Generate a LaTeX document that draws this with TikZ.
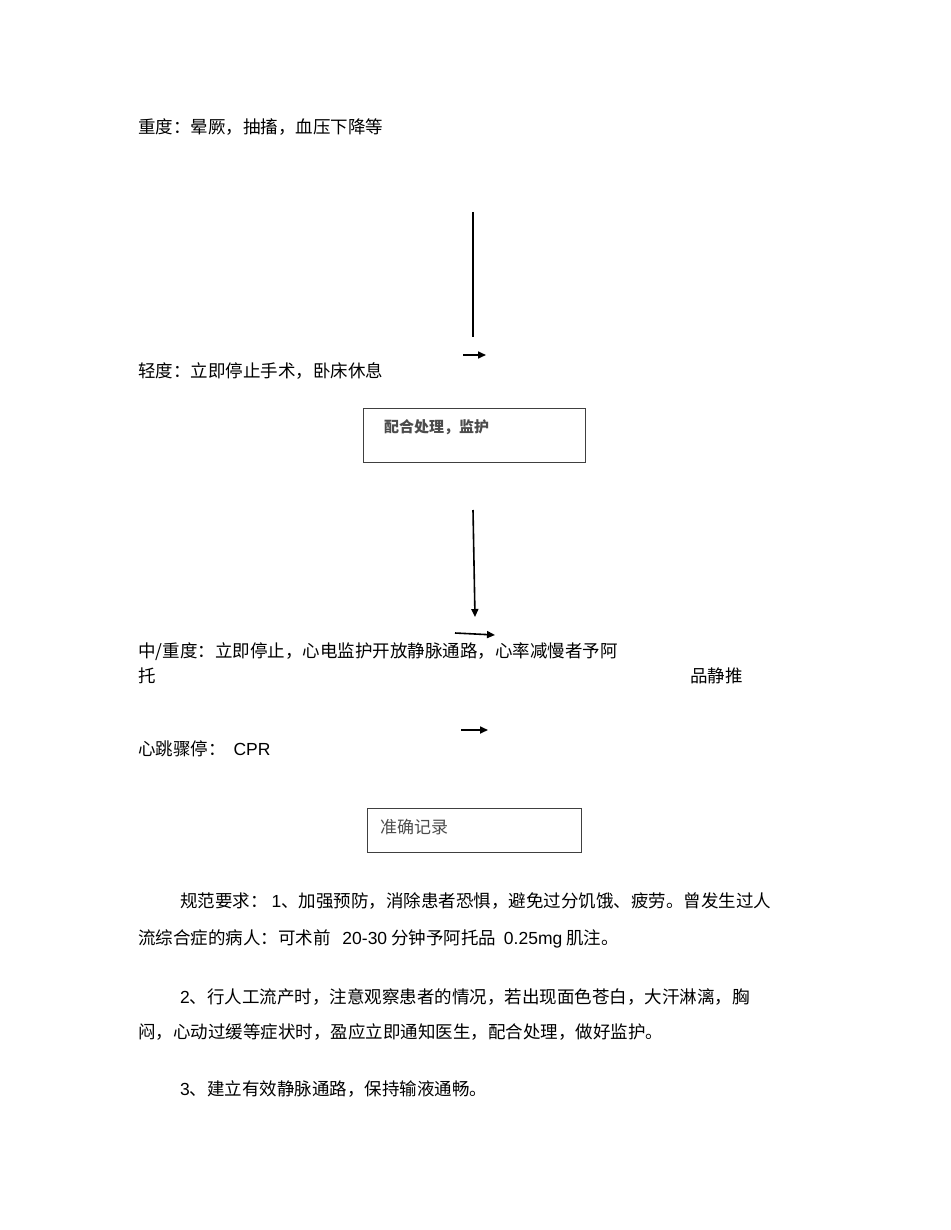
\documentclass[tikz,border=0pt]{standalone}
\usepackage{fontspec}
\setmainfont{Noto Sans CJK SC}
\newfontfamily\lat{Liberation Sans}
\usetikzlibrary{arrows.meta}
\begin{document}
\begin{tikzpicture}[x=1pt,y=-1pt,
  txt/.style={anchor=west,inner sep=0pt,font=\fontsize{17.5}{20}\selectfont},
  boxtxt/.style={anchor=west,inner sep=0pt,text=black!70},
  arr/.style={-{Triangle[length=8pt,width=7pt]},line width=1.6pt},
  frame/.style={draw=black!75,line width=1.1pt}]
\useasboundingbox (0,0) rectangle (950,1230);
\node[txt] (t1) at (138,127) {重度：晕厥，抽搐，血压下降等};
\coordinate (v1) at (473,212); \coordinate (v2) at (473,337);
\draw[line width=1.1pt] (v1) -- (v2);
\coordinate (a1) at (463,355); \coordinate (a2) at (486,355);
\draw[arr] (a1) -- (a2);
\node[txt] (t2) at (138,371) {轻度：立即停止手术，卧床休息};
\node[frame,minimum width=222pt,minimum height=54pt,anchor=north west] (b1) at (363,408) {};
\node[boxtxt,font=\bfseries\fontsize{15}{16}\selectfont] (b1t) at (384,427) {配合处理，监护};
\coordinate (c1) at (473,510); \coordinate (c2) at (475,617);
\draw[arr] (c1) -- (c2);
\coordinate (d1) at (455,633); \coordinate (d2) at (495,635);
\draw[arr] (d1) -- (d2);
\node[txt] (t3) at (138,652) {中/重度：立即停止，心电监护开放静脉通路，心率减慢者予阿};
\node[txt] (t4) at (138,676) {托};
\node[txt] (t5) at (690,676) {品静推};
\coordinate (e1) at (461,730); \coordinate (e2) at (488,730);
\draw[arr] (e1) -- (e2);
\node[txt] (t6) at (138,749) {心跳骤停：\ \ {\lat CPR}};
\node[frame,minimum width=214pt,minimum height=44pt,anchor=north west] (b2) at (367,808) {};
\node[boxtxt,font=\fontsize{17}{18}\selectfont] (b2t) at (380,827) {准确记录};
\node[txt] (p1) at (180,901) {规范要求：\ {\lat 1}、加强预防，消除患者恐惧，避免过分饥饿、疲劳。曾发生过人};
\node[txt] (p2) at (138,939) {流综合症的病人：可术前\ \ \ {\lat 20-30} 分钟予阿托品\ \ {\lat 0.25mg} 肌注。};
\node[txt] (p3) at (180,997) {{\lat 2}、行人工流产时，注意观察患者的情况，若出现面色苍白，大汗淋漓，胸};
\node[txt] (p4) at (138,1032) {闷，心动过缓等症状时，盈应立即通知医生，配合处理，做好监护。};
\node[txt] (p5) at (180,1089) {{\lat 3}、建立有效静脉通路，保持输液通畅。};
\end{tikzpicture}
\end{document}
